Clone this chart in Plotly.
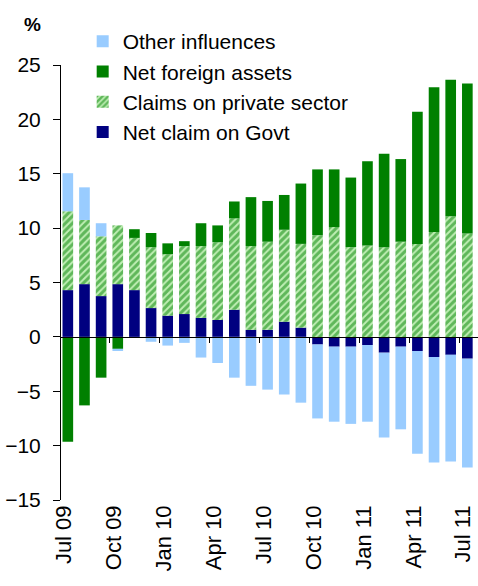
import plotly.graph_objects as go

months = ["Jul 09", "Aug 09", "Sep 09", "Oct 09", "Nov 09", "Dec 09",
          "Jan 10", "Feb 10", "Mar 10", "Apr 10", "May 10", "Jun 10",
          "Jul 10", "Aug 10", "Sep 10", "Oct 10", "Nov 10", "Dec 10",
          "Jan 11", "Feb 11", "Mar 11", "Apr 11", "May 11", "Jun 11", "Jul 11"]

govt = [4.3, 4.85, 3.75, 4.85, 4.3, 2.65, 1.95, 2.1, 1.75, 1.55, 2.5, 0.65,
        0.65, 1.4, 0.85, -0.7, -0.9, -0.9, -0.75, -1.45, -0.9, -1.3, -1.85, -1.65, -2.0]
private = [7.25, 5.9, 5.5, 5.4, 4.8, 5.6, 5.65, 6.25, 6.6, 7.15, 8.4, 7.7,
           8.1, 8.45, 7.7, 9.35, 10.1, 8.25, 8.4, 8.25, 8.75, 8.55, 9.65, 11.1, 9.5]
nfa = [-9.65, -6.3, -3.75, -1.1, 0.8, 1.3, 1.0, 0.45, 2.1, 1.55, 1.55, 4.5,
       3.75, 3.2, 5.55, 6.05, 5.3, 6.4, 7.75, 8.6, 7.6, 12.15, 13.3, 12.55, 13.8]
other = [3.5, 3.0, 1.2, -0.2, 0.0, -0.45, -0.8, -0.55, -1.9, -2.4, -3.75, -4.5,
         -4.85, -5.3, -6.05, -6.8, -6.9, -7.1, -7.05, -7.8, -7.6, -9.45, -9.7, -9.8, -10.0]

tick_idx = list(range(0, len(months), 3))
tick_text = [months[i] for i in tick_idx]
boundary_ticks = [i + 2.5 for i in range(0, len(months) - 3, 3)]

x = list(range(len(months)))
FONT = "Liberation Sans, Arial, sans-serif"
xr = [-0.41, 24.64]

fig = go.Figure()
fig.add_trace(go.Bar(x=x, y=govt, name="Net claim on Govt",
                     marker=dict(color="#000080", line=dict(width=0))))
fig.add_trace(go.Bar(x=x, y=private, name="Claims on private sector",
                     marker=dict(color="#008000", line=dict(width=0),
                                 pattern=dict(shape="/", fgcolor="#008000",
                                              bgcolor="#bfeeb4", size=5,
                                              solidity=0.6))))
fig.add_trace(go.Bar(x=x, y=nfa, name="Net foreign assets",
                     marker=dict(color="#008000", line=dict(width=0))))
fig.add_trace(go.Bar(x=x, y=other, name="Other influences",
                     marker=dict(color="#99CCFF", line=dict(width=0))))
fig.add_trace(go.Scatter(x=[], y=[], xaxis="x2", showlegend=False,
                         hoverinfo="skip"))

fig.update_layout(
    width=478, height=586,
    margin=dict(l=61, r=0, t=65, b=86, autoexpand=False),
    paper_bgcolor="white", plot_bgcolor="white",
    barmode="relative", bargap=0.36,
    font=dict(family=FONT, size=21, color="black"),
    showlegend=True,
    legend=dict(x=0.052, y=1.101, xanchor="left", yanchor="top",
                traceorder="reversed", bgcolor="rgba(0,0,0,0)",
                font=dict(size=21), itemwidth=30, tracegroupgap=0),
    xaxis=dict(range=xr, tickmode="array", tickvals=tick_idx,
               ticktext=tick_text, tickangle=-90, showline=False,
               showgrid=False, zeroline=False, ticks="",
               tickfont=dict(size=22), automargin=False,
               ticklabeloverflow="allow", ticklabelshift=-4),
    xaxis2=dict(range=xr, overlaying="x", anchor="free", position=0.375,
                side="bottom", showline=True, linecolor="black", linewidth=1,
                ticks="outside", ticklen=5, tickcolor="black",
                tickmode="array", tickvals=boundary_ticks,
                showticklabels=False, showgrid=False, zeroline=False),
    yaxis=dict(range=[-15, 25], dtick=5, showline=True, linecolor="black",
               linewidth=1, ticks="outside", ticklen=7, tickcolor="black",
               showgrid=False, zeroline=False, tickfont=dict(size=21),
               ticklabelstandoff=8, automargin=False),
    annotations=[dict(text="<b>%</b>", xref="paper", yref="paper",
                      x=-0.068, y=1.093, xanchor="center", yanchor="middle",
                      showarrow=False, font=dict(size=19))],
)

fig.write_html("out.html",
               config={"displayModeBar": False},
               post_script="document.body.style.margin='0';"
                           "document.body.style.overflow='hidden';")
